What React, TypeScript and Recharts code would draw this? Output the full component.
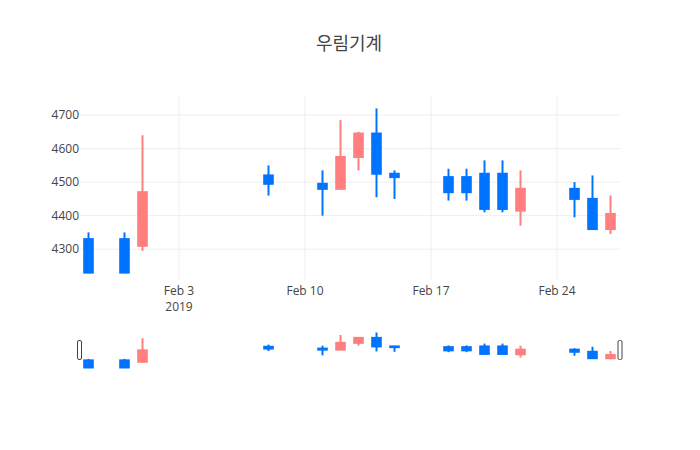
import React from "react";
import { ComposedChart, Bar, XAxis, YAxis, CartesianGrid } from "recharts";

// daily OHLC
const dates = [
  "2019-01-29", "2019-01-31", "2019-02-01", "2019-02-08", "2019-02-11",
  "2019-02-12", "2019-02-13", "2019-02-14", "2019-02-15", "2019-02-18",
  "2019-02-19", "2019-02-20", "2019-02-21", "2019-02-22", "2019-02-25",
  "2019-02-26", "2019-02-27",
];
const opens = [4330, 4330, 4310, 4520, 4495, 4480, 4575, 4645, 4525, 4515, 4515, 4525, 4525, 4415, 4480, 4450, 4360];
const closes = [4230, 4230, 4470, 4495, 4480, 4575, 4645, 4525, 4515, 4470, 4470, 4420, 4420, 4480, 4450, 4360, 4405];
const highs = [4350, 4350, 4640, 4550, 4535, 4685, 4650, 4720, 4535, 4540, 4540, 4565, 4565, 4535, 4500, 4520, 4460];
const lows = [4230, 4230, 4295, 4460, 4400, 4480, 4535, 4455, 4450, 4445, 4445, 4410, 4410, 4370, 4395, 4360, 4345];

const yTicks = [4300, 4400, 4500, 4600, 4700];
const xTickDates = ["2019-02-03", "2019-02-10", "2019-02-17", "2019-02-24"];
const xTickLabels = ["Feb 3", "Feb 10", "Feb 17", "Feb 24"];
const yearLabel = "2019";
const title = "우림기계";

const UP = "#ff7f7f";
const DOWN = "#0074ff";
const FONT = "'Open Sans', 'Noto Sans CJK KR', sans-serif";

const dayOf = (s: string) => Date.parse(s + "T00:00:00Z") / 86400000;

const rows = dates.map((d, i) => ({
  t: dayOf(d),
  open: opens[i],
  close: closes[i],
  high: highs[i],
  low: lows[i],
  range: [lows[i], highs[i]],
}));
const xTicks = xTickDates.map(dayOf);
const xDomain = [rows[0].t - 0.5, rows[rows.length - 1].t + 0.5];

function Candle(props: any) {
  const { x, y, width, height, payload } = props;
  if (!payload) return null;
  const { open, close, high, low } = payload;
  const top = Math.min(y, y + height);
  const k = Math.abs(height) / (high - low);
  const py = (v: number) => top + (high - v) * k;
  const cx = x + width / 2;
  const color = close >= open ? UP : DOWN;
  const bt = py(Math.max(open, close));
  const bb = py(Math.min(open, close));
  return (
    <g>
      <line x1={cx} x2={cx} y1={py(high)} y2={py(low)} stroke={color} strokeWidth={2} />
      <rect x={cx - 4.3} y={bt} width={8.6} height={Math.max(bb - bt, 0.5)}
        fill={color} stroke={color} strokeWidth={2} />
    </g>
  );
}

function DateTick(props: any) {
  const { x, y, payload } = props;
  const i = xTicks.indexOf(payload.value);
  return (
    <text x={x} y={y} textAnchor="middle" fill="#444" fontSize={12} fontFamily={FONT}>
      <tspan x={x} dy={15}>{xTickLabels[i]}</tspan>
      {i === 0 && <tspan x={x} dy={15.5}>{yearLabel}</tspan>}
    </text>
  );
}

export default function App() {
  return (
    <div style={{ position: "absolute", left: 0, top: 0, width: 700, height: 450, background: "#fff", fontFamily: FONT }}>
      <ComposedChart width={700} height={320} data={rows}
        margin={{ top: 95, right: 80, bottom: 0, left: 30 }}>
        <CartesianGrid stroke="#eeeeee" strokeWidth={1} syncWithTicks />
        <XAxis dataKey="t" type="number" domain={xDomain} ticks={xTicks} interval={0}
          allowDataOverflow axisLine={false} tickLine={false} tickSize={0} tickMargin={0}
          height={40} tick={<DateTick />} />
        <YAxis type="number" domain={[4208, 4760]} ticks={yTicks} allowDataOverflow
          axisLine={false} tickLine={false} tickSize={0} tickMargin={1} width={50}
          tick={{ fontSize: 12, fill: "#444", fontFamily: FONT }} />
        <Bar dataKey="range" barSize={9} shape={<Candle />} isAnimationActive={false} />
      </ComposedChart>

      {/* range slider */}
      <div style={{ position: "absolute", left: 0, top: 320 }}>
        <ComposedChart width={700} height={130} data={rows}
          margin={{ top: 10, right: 80, bottom: 80, left: 80 }}>
          <XAxis dataKey="t" type="number" domain={xDomain} allowDataOverflow hide />
          <YAxis type="number" domain={[4195, 4755]} allowDataOverflow hide />
          <Bar dataKey="range" barSize={9} shape={<Candle />} isAnimationActive={false} />
        </ComposedChart>
      </div>

      <svg width={700} height={450} style={{ position: "absolute", left: 0, top: 0, pointerEvents: "none" }}>
        <text x={349} y={49.5} textAnchor="middle" fontSize={18} fill="#444" fontFamily={FONT}>{title}</text>
        <rect x={77.5} y={340.5} width={4} height={19} rx={1.5} fill="#fff" stroke="#444" strokeWidth={1} />
        <rect x={618} y={340.5} width={4} height={19} rx={1.5} fill="#fff" stroke="#444" strokeWidth={1} />
      </svg>
    </div>
  );
}
